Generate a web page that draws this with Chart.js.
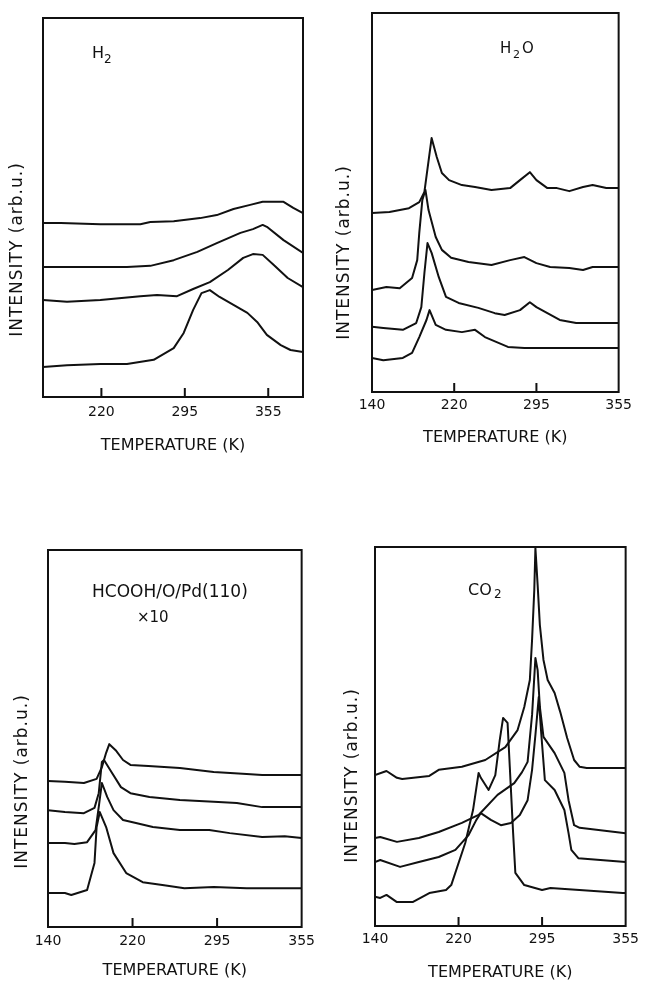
<!DOCTYPE html>
<html>
<head>
<meta charset="utf-8">
<script src="https://cdn.jsdelivr.net/npm/chart.js@4.4.1/dist/chart.umd.min.js"></script>
<style>
  body { margin: 0; background: #fff; }
  #page { position: relative; width: 645px; height: 983px; overflow: hidden; }
  canvas { position: absolute; }
</style>
</head>
<body>
<div id="page">
  <canvas id="h2"></canvas>
  <canvas id="h2o"></canvas>
  <canvas id="hcooh"></canvas>
  <canvas id="co2"></canvas>
</div>
<script>
// tick labels on the temperature axis (drawn evenly spaced, like the original)
const tempTicks = [140, 220, 295, 355]

// H2 desorption, 4 traces (temperature K / intensity arb.u.)
const h2Temps = [
    [164, 181, 219, 255, 264, 285, 306, 318, 330, 342, 351, 366, 373, 380],
    [164, 203, 243, 264, 285, 304, 318, 335, 344, 351, 354, 366, 380],
    [164, 187, 219, 255, 270, 288, 301, 313, 326, 337, 344, 351, 359, 369, 380],
    [164, 187, 219, 243, 267, 285, 294, 301, 307, 313, 320, 330, 340, 347, 354, 364, 371, 380]
]
const h2Ints = [
    [45.9, 45.9, 45.6, 45.6, 46.2, 46.4, 47.2, 48.0, 49.6, 50.7, 51.5, 51.5, 49.9, 48.5],
    [34.3, 34.3, 34.3, 34.6, 36.1, 38.3, 40.6, 43.3, 44.3, 45.4, 44.9, 41.4, 38.0],
    [25.6, 25.1, 25.6, 26.6, 26.9, 26.6, 28.5, 30.3, 33.5, 36.7, 37.7, 37.5, 34.8, 31.4, 29.0],
    [7.9, 8.4, 8.7, 8.7, 9.8, 12.9, 16.9, 23.0, 27.4, 28.2, 26.4, 24.3, 22.2, 19.8, 16.4, 13.7, 12.4, 11.9]
]

// H2O
const h2oTemps = [
    [140, 157, 176, 186, 191, 198, 203, 208, 215, 227, 239, 254, 271, 280, 289, 295, 303, 310, 319, 329, 336, 346, 355],
    [140, 154, 167, 179, 184, 186, 189, 192, 195, 202, 208, 217, 233, 254, 271, 284, 295, 305, 319, 329, 336, 344, 355],
    [140, 151, 170, 183, 188, 191, 194, 198, 205, 212, 224, 242, 257, 266, 280, 289, 295, 303, 312, 324, 355],
    [140, 151, 170, 179, 186, 193, 196, 202, 212, 227, 239, 248, 269, 284, 355]
]
const h2oInts = [
    [47.2, 47.5, 48.5, 50.1, 52.8, 67.0, 62.0, 57.8, 55.9, 54.6, 54.1, 53.3, 53.8, 55.9, 58.0, 55.9, 53.8, 53.8, 53.0, 54.1, 54.6, 53.8, 53.8],
    [26.9, 27.7, 27.4, 30.1, 34.8, 42.0, 50.7, 53.3, 48.0, 40.9, 37.5, 35.4, 34.3, 33.5, 34.8, 35.6, 34.0, 33.0, 32.7, 32.2, 33.0, 33.0, 33.0],
    [17.2, 16.9, 16.4, 18.2, 22.4, 31.4, 39.3, 36.7, 30.3, 25.1, 23.5, 22.2, 20.8, 20.3, 21.6, 23.7, 22.4, 20.8, 19.0, 18.2, 18.2],
    [9.0, 8.4, 9.0, 10.3, 14.5, 19.0, 21.6, 17.7, 16.4, 15.8, 16.4, 14.5, 11.9, 11.6, 11.6]
]

// HCOOH/O/Pd(110) x10
const hcoohTemps = [
    [140, 156, 174, 186, 191, 195, 198, 204, 211, 218, 234, 262, 292, 316, 327, 355],
    [140, 156, 174, 184, 188, 191, 193, 199, 209, 218, 235, 262, 292, 309, 327, 355],
    [140, 156, 165, 177, 185, 188, 191, 196, 202, 211, 223, 238, 262, 288, 304, 327, 343, 355],
    [140, 156, 162, 177, 184, 186, 189, 195, 202, 214, 229, 248, 266, 292, 316, 355]
]
const hcoohInts = [
    [38.7, 38.5, 38.2, 39.3, 42.4, 46.2, 48.5, 46.9, 44.3, 43.0, 42.7, 42.2, 41.1, 40.6, 40.3, 40.3],
    [31.0, 30.5, 30.2, 31.6, 35.5, 43.8, 44.3, 41.6, 37.1, 35.5, 34.5, 33.7, 33.2, 32.9, 31.8, 31.8],
    [22.3, 22.3, 22.0, 22.5, 25.7, 31.8, 38.2, 34.5, 31.0, 28.4, 27.6, 26.5, 25.7, 25.7, 24.9, 23.9, 24.1, 23.6],
    [9.0, 9.0, 8.5, 9.8, 17.0, 26.5, 30.5, 26.5, 19.6, 14.3, 11.9, 11.1, 10.3, 10.6, 10.3, 10.3]
]

// CO2
const co2Temps = [
    [140, 151, 161, 166, 192, 201, 223, 244, 262, 273, 279, 284, 286, 288, 289, 291, 293, 296, 299, 304, 308, 313, 318, 322, 327, 355],
    [140, 145, 161, 182, 201, 223, 238, 255, 270, 277, 282, 286, 289, 291, 293, 296, 304, 311, 314, 318, 322, 355],
    [140, 145, 164, 182, 201, 217, 229, 236, 240, 249, 258, 267, 275, 282, 286, 289, 292, 294, 297, 304, 311, 314, 316, 321, 355],
    [140, 145, 151, 161, 176, 192, 208, 213, 226, 233, 238, 240, 247, 253, 257, 260, 264, 266, 269, 271, 279, 295, 301, 353, 355]
]
const co2Ints = [
    [39.8, 40.9, 39.1, 38.8, 39.6, 41.2, 42.0, 43.8, 47.2, 51.7, 57.8, 64.9, 75.5, 88.7, 99.7, 90.0, 79.4, 70.2, 64.9, 61.5, 56.5, 49.6, 43.8, 42.0, 41.7, 41.7],
    [23.2, 23.5, 22.2, 23.2, 24.8, 27.2, 29.3, 34.6, 37.7, 40.6, 43.3, 55.7, 70.7, 67.5, 57.8, 49.9, 45.6, 40.4, 33.2, 26.6, 25.9, 24.5],
    [16.9, 17.4, 15.6, 16.9, 18.2, 20.1, 24.0, 28.0, 29.8, 28.0, 26.6, 27.2, 29.3, 33.2, 41.2, 50.4, 60.4, 51.7, 38.5, 35.9, 30.6, 24.5, 20.1, 17.9, 16.9],
    [7.7, 7.4, 8.2, 6.3, 6.3, 8.7, 9.5, 10.8, 21.9, 30.6, 40.4, 39.1, 35.9, 39.8, 49.1, 54.9, 53.6, 42.0, 24.5, 14.0, 10.8, 9.5, 10.0, 8.7, 8.7]
]

const INK = '#111'
const FONT = '"DejaVu Sans", sans-serif'

// the printed axis puts 140/220/295/355 at equal spacing, so map T piecewise onto 0..3
function tempToPos(t) {
    let i = 0
    if (t > tempTicks[1]) i = 1
    if (t > tempTicks[2]) i = 2
    return i + (t - tempTicks[i]) / (tempTicks[i + 1] - tempTicks[i])
}

const panels = [
    {id: 'h2', box: {l: 43, t: 18, r: 303, b: 397}, tMin: 164, tMax: 380, temps: h2Temps, ints: h2Ints,
     xAxisH: 58, tickPad: 7, yTitle: {dx: -25, dy: 42},
     label: [{text: 'H', dx: 49, dy: 40, size: 16}, {text: '2', dx: 61, dy: 45, size: 12}]},
    {id: 'h2o', box: {l: 372, t: 13, r: 623, b: 392}, tMin: 140, tMax: 355, temps: h2oTemps, ints: h2oInts,
     xAxisH: 55, tickPad: 5, yTitle: {dx: -27, dy: 50},
     label: [{text: 'H', dx: 128, dy: 40, size: 15}, {text: '2', dx: 141, dy: 45, size: 11}, {text: 'O', dx: 150, dy: 40, size: 15}]},
    {id: 'hcooh', box: {l: 48, t: 550, r: 307, b: 927}, tMin: 140, tMax: 355, temps: hcoohTemps, ints: hcoohInts,
     xAxisH: 53, tickPad: 6, yTitle: {dx: -25, dy: 43},
     label: [{text: 'HCOOH/O/Pd(110)', dx: 44, dy: 47, size: 17}, {text: '×10', dx: 89, dy: 72, size: 15}]},
    {id: 'co2', box: {l: 375, t: 547, r: 630, b: 926}, tMin: 140, tMax: 355, temps: co2Temps, ints: co2Ints,
     xAxisH: 56, tickPad: 5, yTitle: {dx: -22, dy: 39},
     label: [{text: 'CO', dx: 93, dy: 48, size: 16}, {text: '2', dx: 119, dy: 51, size: 12}]}
]

// frame, inward ticks, rotated y title and the panel name
const panelDecor = {
    id: 'panelDecor',
    afterDatasetsDraw(chart, args, opts) {
        const {ctx, chartArea: a, scales: {x}} = chart
        ctx.save()
        ctx.strokeStyle = INK
        ctx.lineWidth = 2
        ctx.strokeRect(a.left, a.top, a.right - a.left, a.bottom - a.top)
        ctx.beginPath()
        x.ticks.forEach(tk => {
            const px = x.getPixelForValue(tk.value)
            if (px > a.left + 3 && px < a.right - 3) {
                ctx.moveTo(px, a.bottom)
                ctx.lineTo(px, a.bottom - 9)
            }
        })
        ctx.stroke()

        ctx.fillStyle = INK
        ctx.textBaseline = 'alphabetic'
        ctx.textAlign = 'left'
        opts.label.forEach(s => {
            ctx.font = s.size + 'px ' + FONT
            ctx.fillText(s.text, a.left + s.dx, a.top + s.dy)
        })

        ctx.translate(a.left + opts.yTitle.dx, (a.top + a.bottom) / 2 + opts.yTitle.dy)
        ctx.rotate(-Math.PI / 2)
        ctx.font = '17px ' + FONT
        ctx.letterSpacing = '1px'
        ctx.textAlign = 'center'
        ctx.textBaseline = 'middle'
        ctx.fillText('INTENSITY (arb.u.)', 0, 0)
        ctx.restore()
    }
}

function makeChart(p) {
    const padL = 43, padT = 8, padR = 14
    const canvas = document.getElementById(p.id)
    canvas.width = p.box.r - p.box.l + padL + padR
    canvas.height = p.box.b - p.box.t + padT + p.xAxisH
    canvas.style.left = (p.box.l - padL) + 'px'
    canvas.style.top = (p.box.t - padT) + 'px'

    const datasets = p.temps.map((ts, i) => ({
        data: ts.map((t, j) => ({x: tempToPos(t), y: p.ints[i][j]})),
        borderColor: INK,
        borderWidth: 2,
        borderJoinStyle: 'round',
        pointRadius: 0,
        tension: 0,
        fill: false
    }))

    return new Chart(canvas, {
        type: 'line',
        data: {datasets: datasets},
        plugins: [panelDecor],
        options: {
            responsive: false,
            animation: false,
            events: [],
            layout: {autoPadding: false, padding: {left: padL, top: padT, right: padR, bottom: 0}},
            plugins: {
                legend: {display: false},
                tooltip: {enabled: false},
                panelDecor: {label: p.label, yTitle: p.yTitle}
            },
            scales: {
                x: {
                    type: 'linear',
                    min: tempToPos(p.tMin),
                    max: tempToPos(p.tMax),
                    afterBuildTicks: s => {
                        s.ticks = tempTicks.map(t => ({value: tempToPos(t)}))
                            .filter(tk => tk.value >= s.min - 1e-6 && tk.value <= s.max + 1e-6)
                    },
                    afterFit: s => { s.height = p.xAxisH },
                    ticks: {
                        autoSkip: false,
                        maxRotation: 0,
                        padding: p.tickPad,
                        color: INK,
                        font: {family: FONT, size: 14},
                        callback: v => {
                            const t = tempTicks.find(tt => Math.abs(tempToPos(tt) - v) < 1e-6)
                            return t === undefined ? '' : String(t)
                        }
                    },
                    grid: {display: false, drawTicks: false},
                    border: {display: false},
                    title: {display: true, text: 'TEMPERATURE (K)', color: INK, padding: 0,
                            font: {family: FONT, size: 16}}
                },
                y: {display: false, min: 0, max: 100}
            }
        }
    })
}

panels.forEach(makeChart)
</script>
</body>
</html>
